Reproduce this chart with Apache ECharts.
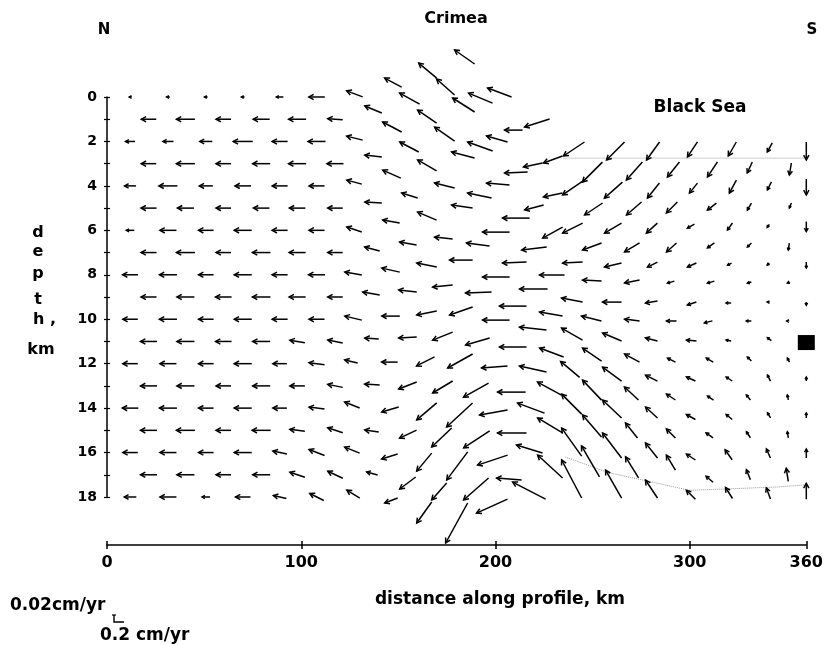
<!DOCTYPE html>
<html>
<head>
<meta charset="utf-8">
<script src="https://cdn.jsdelivr.net/npm/echarts@6/dist/echarts.min.js"></script>
<style>
html,body{margin:0;padding:0;background:#fff;}
#chart{width:826px;height:645px;}
</style>
</head>
<body>
<div id="chart"></div>
<script>
// ---------------- DATA ----------------
// distance ticks (km) and depth ticks (km)
const distanceTicks = [0, 100, 200, 300, 360];
const depthTicks = [0, 2, 4, 6, 8, 10, 12, 14, 16, 18];

// regular part of the mesh (north side): node distances for even / odd depth rows
const leftEvenX = [12, 31.5, 51, 70, 89, 108];
const leftOddX  = [21.5, 40.5, 60, 79.5, 98, 117.5];
// horizontal velocity (mm/yr, negative = northward) for rows depth 0..18
const leftU = [
  [-0.4,-0.6,-0.6,-0.6,-1.4,-3.2],
  [-3.0,-3.7,-3.0,-3.3,-3.5,-3.0],
  [-1.9,-2.1,-2.5,-3.9,-3.1,-3.5],
  [-3.0,-3.7,-3.0,-3.5,-3.5,-3.3],
  [-2.3,-3.7,-2.7,-3.2,-3.1,-3.1],
  [-3.1,-3.3,-3.0,-3.2,-3.2,-3.0],
  [-1.6,-3.3,-3.0,-3.5,-3.1,-3.1],
  [-3.1,-3.7,-3.0,-3.6,-3.3,-3.0],
  [-3.1,-3.5,-3.0,-3.5,-3.1,-3.3],
  [-3.1,-3.5,-3.2,-3.6,-3.3,-3.0],
  [-3.0,-3.5,-3.0,-3.5,-3.1,-3.1],
  [-3.3,-3.5,-3.2,-3.5,-3.0,-3.0],
  [-3.0,-3.3,-3.0,-3.5,-2.8,-3.1],
  [-3.3,-3.5,-3.0,-3.5,-3.0,-3.0],
  [-3.2,-3.5,-3.0,-3.5,-2.8,-3.1],
  [-3.3,-3.7,-3.0,-3.7,-3.0,-3.0],
  [-3.0,-3.3,-3.0,-3.5,-2.8,-3.1],
  [-3.3,-3.5,-3.0,-3.5,-3.0,-3.0],
  [-2.4,-3.3,-1.6,-3.0,-2.6,-2.8]
];
// vertical velocity (mm/yr, positive = upward)
const leftW = [
  [0,0,0,0,0,0],
  [0,0,0,0,0,0.05],
  [0,0,0,0,0,0],
  [0,0,0,0,0,0],
  [0,0,0,0,0,0],
  [0,0,0,0,0,0],
  [0,0,0,0,0,0],
  [0,0,0,0,0,0],
  [0,0,0,0,0,0],
  [0,0,0,0,0,0],
  [0,0,0,0,0,0],
  [0,0,0,0,0.13,0.15],
  [0,0,0,0,0,0.1],
  [0,0,0,0,0,0.15],
  [0,0,0,0,0,0.1],
  [0,0,0,0,0.1,0.25],
  [0,0,0,0,0.15,0.3],
  [0,0,0,0,0.25,0.35],
  [0,0,0,0,0.15,0.35]
];

// deformed mesh under Crimea: [distance km, depth km, u mm/yr, w mm/yr]
const crimeaNodes = [
  [127.5,-0.14,-3.2,0.3],[127.5,1.85,-3.2,0.2],[127.3,3.83,-3,0.2],[127.3,5.96,-3,0.25],[126.8,7.94,-3.4,0.15],
  [126.8,9.95,-3.4,0.2],[125.7,11.9,-2.6,0.15],[126.2,13.86,-3,0.3],[126.2,15.89,-3,0.3],[126.8,17.87,-2.6,0.4],
  [137.1,0.56,-3.4,0.35],[137.1,2.66,-3.4,0.1],[137.1,4.75,-3.4,0.05],[136.5,6.84,-3,0.2],[136,8.84,-3.4,0.15],
  [136.3,10.87,-2.8,0.05],[136.5,12.94,-3,0.05],[136.3,15.03,-2.8,0.1],[136.5,16.94,-2.2,0.15],
  [147.3,-0.65,-3.4,0.45],[146.8,1.35,-3.8,0.5],[146.6,3.47,-3.6,0.4],[146.3,5.6,-3.4,0.15],[146.1,7.79,-3.6,0.2],
  [146.1,9.86,-3.6,0],[145.5,11.93,-3.2,0],[145.8,14.06,-3.4,-0.25],[145.5,16.18,-3.2,-0.25],[146.3,18.16,-2.6,-0.25],
  [155.8,0.07,-4,0.55],[155.6,2.25,-3.8,0.5],[155.8,4.43,-3.2,0.25],[155,6.59,-3.4,0.15],[154.8,8.73,-3.6,0.1],
  [154.8,10.82,-3.6,-0.05],[154.8,12.98,-3.6,-0.35],[155,15.17,-3.4,-0.4],[154.8,17.37,-3.2,-0.6],
  [165.1,-1.19,-3.6,0.75],[164.8,0.88,-3.8,0.65],[164.8,3.08,-3.8,0.55],[164.8,5.36,-3.8,0.4],[164.6,7.56,-4,0.2],
  [164.6,9.72,-4,-0.2],[164,11.9,-3.6,-0.45],[164.6,14.15,-4,-0.85],[163.3,16.43,-3,-0.9],[163.3,18.7,-3,-1.05],
  [174.3,-0.45,-3.6,0.8],[173.8,1.67,-4,0.7],[173.8,3.98,-4,0.25],[173.3,6.35,-3.6,0.1],[172.8,8.51,-4,-0.1],
  [172.8,10.76,-4,-0.4],[172.8,13.05,-4,-0.6],[172.3,15.32,-4,-0.95],[171,17.75,-3,-0.85],
  [184.1,-1.8,-4,0.7],[183.6,0.36,-4.4,0.7],[183.3,2.61,-4.6,0.3],[182.8,4.93,-4.2,0.15],[182.3,7.34,-4.6,0],
  [182.3,9.63,-4.6,-0.4],[181.8,11.88,-5,-0.7],[181.5,14.31,-5.2,-1.2],[180.3,16.6,-4.2,-1.4],[180,19.17,-4.4,-2.0],
  [192.3,0.05,-4.8,0.5],[192.1,2.23,-5,0.45],[191.8,4.43,-4.8,0.25],[191,6.64,-4.6,0.15],[191.3,8.8,-5.2,-0.05],
  [190.8,11.0,-4.8,-0.35],[190,13.19,-5,-0.7],[190.3,15.41,-5.2,-0.85],[190,17.64,-5,-1.1],
  [202.1,-0.2,-4.8,0.45],[200.8,1.89,-4.2,0.3],[201.3,3.92,-4.6,0.1],[200.3,6.08,-5.4,0],[200.3,8.1,-5.4,0],
  [200.3,10.04,-5.4,0],[199.5,12.15,-5.2,-0.1],[199,14.2,-5.6,-0.25],[198.5,16.34,-6,-0.5],[198.2,18.41,-6.2,-0.7],
  [209.3,1.49,-3.6,0],[210.6,3.4,-4.6,-0.05],[210.6,5.45,-5.4,0],[209.8,7.45,-4.8,-0.05],[209,9.41,-5.4,0],
  [209,11.25,-5.4,0],[208.3,13.28,-5.6,0],[208.5,15.12,-5.8,0],[207,17.19,-5,0.1],
  [221.4,1.17,-5,-0.4],[219.3,3.06,-3.8,-0.2],[219.9,4.97,-3.8,-0.25],[219.9,6.82,-5,-0.15],[219.6,8.64,-5.6,0],
  [219.3,10.42,-5.4,0.15],[219.3,12.24,-5.4,0.3],[218.3,14.0,-5.4,0.5],[217.5,15.84,-5.2,0.4],[217.3,17.71,-6.6,0.85],
  [229.6,2.81,-3.8,-0.35],[229.6,4.41,-3.8,-0.2],[229.4,6.1,-4,-0.55],[229.1,8.01,-5,0],[228.6,9.77,-4.6,0.2],
  [228.9,11.5,-4.8,0.45],[227.8,13.12,-4.8,0.65],[228.1,14.78,-5,0.75],[228.1,16.63,-5,1.15],
  [240.4,2.34,-4.2,-0.7],[240.2,4.07,-4.4,-0.75],[239.7,5.9,-4,-0.5],[239.7,7.45,-4,-0.05],[239.4,9.14,-4.2,0.2],
  [239.4,10.67,-4.2,0.6],[238.4,12.26,-3.8,0.8],[239.2,13.82,-4,1.0],[239.2,15.53,-4,1.4],[239.2,17.19,-4,1.9],
  [249.9,3.38,-4,-1.0],[250.5,5.04,-3.6,-0.6],[249.7,6.73,-3.8,-0.35],[249.7,8.26,-3.8,0.05],[249.4,9.97,-4,0.25],
  [249.7,11.59,-3.8,0.65],[249.7,13.19,-3.8,1.0],[249.7,14.8,-3.8,1.1],[248.9,16.4,-3.6,1.55]
];

// Black Sea basin mesh: [distance km, depth km, u mm/yr, w mm/yr]
const basinNodes = [
  [261.8,2.43,-3.6,-0.9],[260.7,4.19,-3.6,-0.8],[260.5,5.9,-3.4,-0.5],[260.5,7.56,-3.4,-0.2],[260,9.23,-3.8,0],
  [260,10.8,-3.8,0.4],[260,12.47,-3.8,0.7],[260,14.04,-3.8,0.9],[260,15.68,-3.8,1.25],[260.8,17.42,-3.2,1.4],
  [271.5,3.33,-3.2,-0.9],[271.3,5.02,-3,-0.65],[270.3,6.77,-3,-0.45],[270.3,8.3,-3,-0.15],[270.3,10.04,-3,0.1],
  [270.3,11.75,-3,0.4],[270,13.34,-2.8,0.65],[270,15.01,-2.4,0.75],[270.3,16.67,-2.6,1.05],
  [281.1,2.43,-2.6,-0.9],[281.3,4.21,-2.4,-0.75],[280.5,5.9,-2.2,-0.5],[280.8,7.54,-2,-0.25],[280.3,9.23,-2.4,-0.1],
  [280.3,10.91,-2.4,0.15],[280.3,12.65,-2.4,0.3],[280.3,14.2,-2.4,0.55],[280.3,15.91,-2.4,0.75],[280.3,17.64,-2.4,0.9],
  [291.6,3.26,-2.4,-0.75],[290.8,4.97,-2.2,-0.55],[290.6,6.77,-2,-0.45],[290.3,8.33,-1.4,-0.1],[290.6,10.08,-2,0],
  [290.6,11.84,-1.6,0.2],[290.3,13.5,-1.8,0.3],[290.3,15.14,-1.8,0.45],[290.3,16.45,-1.8,0.75],
  [301.4,2.36,-2,-0.75],[301.9,4.1,-1.6,-0.5],[300.6,5.81,-1.4,-0.2],[301.1,7.56,-1.8,-0.2],[301.1,9.29,-1.8,-0.15],
  [300.9,10.96,-2,0.05],[300.6,12.69,-1.8,0.2],[300.6,14.4,-1.8,0.25],[300.6,16.2,-1.8,0.3],[300.6,17.9,-1.8,0.45],
  [311.7,3.26,-2,-0.75],[311.4,4.93,-1.8,-0.35],[310.9,6.68,-1.4,-0.25],[310.9,8.33,-1.4,-0.1],[309.6,10.12,-1.6,-0.1],
  [310.3,11.84,-1.4,0.2],[310.7,13.55,-1.2,0.2],[310.2,15.23,-1.4,0.25],[310.2,17.2,-1.4,0.3],
  [321.9,2.34,-1.6,-0.7],[322.2,4.03,-1.4,-0.65],[320.7,5.83,-1,-0.35],[320.5,7.52,-0.8,-0.1],[320,9.27,-1,0],
  [320,10.96,-1,0.05],[320.3,12.69,-1.2,0.2],[320.3,14.4,-1.2,0.25],[320,16.1,-1.4,0.5],[320.2,17.82,-1.4,0.55],
  [330.9,3.17,-1,-0.55],[330.7,4.93,-0.8,-0.35],[330.7,6.66,-0.8,-0.2],[330.7,8.35,-0.8,-0.05],[330.4,10.08,-1,0],
  [330.7,11.79,-0.8,0.2],[330.2,13.52,-0.8,0.25],[330.2,15.2,-0.8,0.3],[330.2,17.0,-0.8,0.5],
  [341.2,2.27,-1,-0.45],[341,4.0,-0.8,-0.4],[340.4,5.8,-0.4,-0.15],[340.4,7.52,-0.4,-0.1],[340.4,9.23,-0.4,0],
  [341,10.9,-0.8,0.15],[340.8,12.65,-0.6,0.3],[340.8,14.33,-0.6,0.25],[340.5,16.04,-0.8,0.45],[340.5,17.84,-0.8,0.55],
  [351.8,3.24,-0.4,-0.6],[351.8,4.88,-0.4,-0.25],[351,6.73,-0.2,-0.35],[350.8,8.35,-0.4,-0.05],[350.2,10.08,-0.2,0],
  [350.8,11.84,-0.4,0.2],[350.5,13.52,-0.2,0.25],[350.5,15.2,-0.2,0.3],[350.2,17.0,-0.4,0.65],
  [360,2.43,0,-0.9],[360,4.05,0,-0.8],[360,5.83,0,-0.5],[360,7.56,0,-0.3],[360,9.3,0,-0.15],
  [360,12.69,0,0.2],[360,14.33,0,0.25],[360,16.04,0,0.45],[360,17.74,0,0.8]
];

// basin boundaries (dotted) and marker
const basinTop = [[235, 2.75], [360, 2.75]];
const basinBottom = [[236, 16.2], [258, 16.9], [300, 17.7], [345, 17.55], [360, 17.45]];
const marker = [[360, 11.05]];

// ---------------- BUILD ----------------
const arrows = [];
for (let r = 0; r < leftU.length; r++) {
  const xs = (r % 2 === 0) ? leftEvenX : leftOddX;
  for (let i = 0; i < xs.length; i++) arrows.push([xs[i], r, leftU[r][i], leftW[r][i]]);
}
crimeaNodes.forEach(n => arrows.push(n));
basinNodes.forEach(n => arrows.push(n));

// arrow scale, matching the legend: 0.2 cm/yr horizontal = 10 px, 0.02 cm/yr vertical = 4 px
const PX_PER_MM_H = 5;
const PX_PER_MM_V = 20;

function renderArrow(params, api) {
  const c = api.coord([api.value(0), api.value(1)]);
  const dx = api.value(2) * PX_PER_MM_H;
  const dy = -api.value(3) * PX_PER_MM_V;
  const L = Math.sqrt(dx * dx + dy * dy);
  if (L < 0.2) return null;
  const hx = c[0] + dx / 2, hy = c[1] + dy / 2;
  const tx = c[0] - dx / 2, ty = c[1] - dy / 2;
  const bx = -dx / L, by = -dy / L;
  const hs = Math.max(2.6, Math.min(5.5, L * 0.4));
  const a = 0.5, ca = Math.cos(a), sa = Math.sin(a);
  const p1 = [hx + hs * (bx * ca - by * sa), hy + hs * (bx * sa + by * ca)];
  const p2 = [hx + hs * (bx * ca + by * sa), hy + hs * (-bx * sa + by * ca)];
  return {
    type: 'group',
    children: [
      { type: 'line', shape: { x1: tx, y1: ty, x2: hx, y2: hy }, style: { stroke: '#000', lineWidth: 1.5 } },
      { type: 'polyline', shape: { points: [p1, [hx, hy], p2] }, style: { stroke: '#000', lineWidth: 1.5, fill: null } }
    ]
  };
}

const FONT = '"DejaVu Sans", "Liberation Sans", sans-serif';
const chart = echarts.init(document.getElementById('chart'), null, { renderer: 'canvas' });

const depthLetters = [
  { t: 'd', x: 38, y: 233, align: 'center' }, { t: 'e', x: 38, y: 252, align: 'center' },
  { t: 'p', x: 38, y: 274, align: 'center' }, { t: 't', x: 38, y: 300, align: 'center' },
  { t: 'h ,', x: 33, y: 320, align: 'left' }, { t: 'km', x: 41, y: 350, align: 'center' }
];

const graphics = [
  { type: 'text', x: 104, y: 30, style: { text: 'N', font: 'bold 15px ' + FONT, fill: '#000', textAlign: 'center', textVerticalAlign: 'middle' } },
  { type: 'text', x: 812, y: 30, style: { text: 'S', font: 'bold 15px ' + FONT, fill: '#000', textAlign: 'center', textVerticalAlign: 'middle' } },
  { type: 'text', x: 456, y: 19, style: { text: 'Crimea', font: 'bold 16px ' + FONT, fill: '#000', textAlign: 'center', textVerticalAlign: 'middle' } },
  { type: 'text', x: 700, y: 108, style: { text: 'Black Sea', font: 'bold 17px ' + FONT, fill: '#000', textAlign: 'center', textVerticalAlign: 'middle' } },
  { type: 'text', x: 500, y: 600, style: { text: 'distance along profile, km', font: 'bold 17px ' + FONT, fill: '#000', textAlign: 'center', textVerticalAlign: 'middle' } },
  { type: 'text', x: 10, y: 606, style: { text: '0.02cm/yr', font: 'bold 17px ' + FONT, fill: '#000', textAlign: 'left', textVerticalAlign: 'middle' } },
  { type: 'text', x: 100, y: 636, style: { text: '0.2 cm/yr', font: 'bold 17px ' + FONT, fill: '#000', textAlign: 'left', textVerticalAlign: 'middle' } },
  { type: 'polyline', shape: { points: [[112, 615], [116, 615]] }, style: { stroke: '#000', lineWidth: 1.2, fill: null } },
  { type: 'polyline', shape: { points: [[114, 615], [114, 622], [124, 622]] }, style: { stroke: '#000', lineWidth: 1.4, fill: null } }
];
depthLetters.forEach(l => graphics.push({
  type: 'text', x: l.x, y: l.y,
  style: { text: l.t, font: 'bold 16px ' + FONT, fill: '#000', textAlign: l.align, textVerticalAlign: 'middle' }
}));

const axisLineStyle = { color: '#000', width: 1.5 };

chart.setOption({
  animation: false,
  backgroundColor: '#fff',
  grid: { left: 107, right: 19, top: 97, bottom: 148, containLabel: false },
  xAxis: [
    {
      type: 'value', min: 0, max: 360, interval: 100, position: 'bottom', offset: 48,
      axisLine: { show: true, onZero: false, lineStyle: axisLineStyle },
      axisTick: { show: true, length: 4, lineStyle: axisLineStyle },
      axisLabel: {
        show: true, margin: 10, color: '#000', fontFamily: FONT, fontWeight: 'bold', fontSize: 16,
        formatter: v => (distanceTicks.indexOf(v) >= 0 ? String(v) : '')
      },
      splitLine: { show: false }
    },
    {
      type: 'value', min: 0, max: 360, interval: 100, position: 'bottom', offset: 48,
      axisLine: { show: false, onZero: false },
      axisTick: { show: true, inside: true, length: 4, lineStyle: axisLineStyle },
      axisLabel: { show: false },
      splitLine: { show: false }
    }
  ],
  yAxis: [
    {
      type: 'value', min: 0, max: 18, interval: 1, inverse: true, position: 'left',
      axisLine: { show: true, onZero: false, lineStyle: axisLineStyle },
      axisTick: { show: true, length: 3, lineStyle: { color: '#000', width: 1.2 } },
      axisLabel: {
        show: true, margin: 10, color: '#000', fontFamily: FONT, fontWeight: 'bold', fontSize: 14,
        formatter: v => (depthTicks.indexOf(v) >= 0 ? String(v) : '')
      },
      splitLine: { show: false }
    },
    {
      type: 'value', min: 0, max: 18, interval: 1, inverse: true, position: 'left',
      axisLine: { show: false, onZero: false },
      axisTick: { show: true, inside: true, length: 3, lineStyle: { color: '#000', width: 1.2 } },
      axisLabel: { show: false },
      splitLine: { show: false }
    }
  ],
  graphic: graphics,
  series: [
    {
      type: 'line', data: basinTop, symbol: 'none', silent: true, z: 1,
      lineStyle: { type: 'dotted', color: '#9a9a9a', width: 1 }
    },
    {
      type: 'line', data: basinBottom, symbol: 'none', silent: true, z: 1,
      lineStyle: { type: 'dotted', color: '#9a9a9a', width: 1 }
    },
    {
      type: 'custom', renderItem: renderArrow, data: arrows, clip: false, silent: true, z: 3,
      dimensions: ['distance', 'depth', 'u', 'w'], encode: { x: 0, y: 1 }
    },
    {
      type: 'scatter', data: marker, symbol: 'rect', symbolSize: [17, 15], silent: true, z: 4,
      itemStyle: { color: '#000', opacity: 1 }
    }
  ]
});
</script>
</body>
</html>
